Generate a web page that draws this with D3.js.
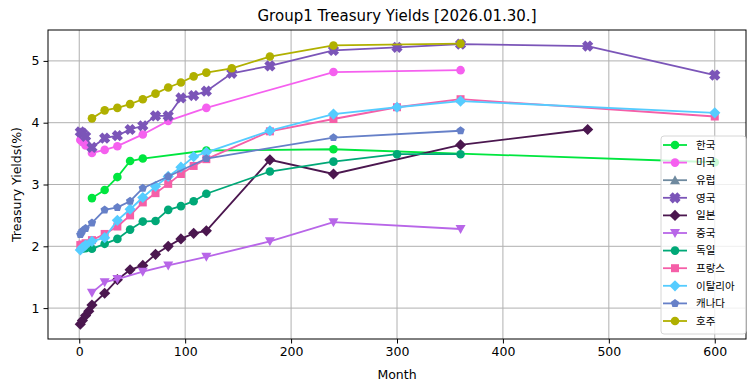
<!DOCTYPE html>
<html>
<head>
<meta charset="utf-8">
<script src="https://cdn.jsdelivr.net/npm/d3@7"></script>
<style>
  body { margin: 0; background: #fff; }
  text { font-family: "DejaVu Sans", sans-serif; fill: #000; }
  .leg text { font-family: "Noto Sans CJK KR", sans-serif; }
</style>
</head>
<body>
<div id="chart"></div>
<script>
// ---- data (month -> yield %) ----
var names = ['한국', '미국', '유럽', '영국', '일본', '중국', '독일', '프랑스', '이탈리아', '캐나다', '호주'];
var colors = ['#00e63f', '#f560ef', '#6f8a9f', '#7b55b8', '#4b174f', '#b866e8', '#00a877', '#f55fa8', '#55ccff', '#6680c8', '#b0b000'];
var shapes = ['circle', 'circle', 'triangleUp', 'x', 'diamond', 'triangleDown', 'circle', 'square', 'diamond', 'pentagon', 'circle'];

var krMonths = [12, 24, 36, 48, 60, 120, 240, 600];
var krYields = [2.78, 2.91, 3.12, 3.38, 3.42, 3.55, 3.57, 3.36];

var usMonths = [1, 2, 3, 4, 6, 12, 24, 36, 60, 84, 120, 240, 360];
var usYields = [3.72, 3.71, 3.69, 3.68, 3.63, 3.51, 3.56, 3.62, 3.81, 4.03, 4.24, 4.82, 4.85];

var euMonths = [];
var euYields = [];

var ukMonths = [1, 3, 6, 12, 24, 36, 48, 60, 72, 84, 96, 108, 120, 144, 180, 240, 300, 360, 480, 600];
var ukYields = [3.85, 3.83, 3.78, 3.60, 3.75, 3.79, 3.89, 3.95, 4.11, 4.11, 4.40, 4.44, 4.51, 4.80, 4.92, 5.17, 5.22, 5.27, 5.24, 4.77];

var jpMonths = [1, 3, 6, 9, 12, 24, 36, 48, 60, 72, 84, 96, 108, 120, 180, 240, 360, 480];
var jpYields = [0.74, 0.80, 0.88, 0.95, 1.05, 1.24, 1.46, 1.62, 1.69, 1.87, 2.00, 2.12, 2.21, 2.25, 3.40, 3.17, 3.64, 3.89];

var cnMonths = [12, 24, 36, 60, 84, 120, 180, 240, 360];
var cnYields = [1.25, 1.42, 1.47, 1.59, 1.69, 1.83, 2.08, 2.39, 2.28];

var deMonths = [3, 6, 12, 24, 36, 48, 60, 72, 84, 96, 108, 120, 180, 240, 300, 360];
var deYields = [1.96, 1.97, 1.96, 2.04, 2.12, 2.27, 2.40, 2.41, 2.59, 2.65, 2.73, 2.85, 3.21, 3.37, 3.49, 3.49];

var frMonths = [1, 3, 6, 12, 24, 36, 48, 60, 72, 84, 96, 108, 120, 180, 240, 300, 360, 600];
var frYields = [2.02, 2.03, 2.05, 2.10, 2.20, 2.32, 2.50, 2.71, 2.86, 3.01, 3.17, 3.30, 3.41, 3.86, 4.06, 4.25, 4.38, 4.10];

var itMonths = [1, 3, 6, 12, 24, 36, 48, 60, 72, 84, 96, 108, 120, 180, 240, 300, 360, 600];
var itYields = [1.94, 1.98, 2.02, 2.08, 2.14, 2.42, 2.60, 2.79, 2.97, 3.13, 3.28, 3.45, 3.52, 3.87, 4.14, 4.25, 4.35, 4.16];

var caMonths = [1, 2, 3, 6, 12, 24, 36, 48, 60, 84, 120, 240, 360];
var caYields = [2.19, 2.22, 2.25, 2.29, 2.38, 2.59, 2.63, 2.73, 2.94, 3.13, 3.42, 3.76, 3.87];

var auMonths = [12, 24, 36, 48, 60, 72, 84, 96, 108, 120, 144, 180, 240, 360];
var auYields = [4.07, 4.20, 4.24, 4.30, 4.38, 4.47, 4.57, 4.65, 4.75, 4.81, 4.88, 5.07, 5.25, 5.28];

var xTicks = [0, 100, 200, 300, 400, 500, 600];
var yTicks = [1, 2, 3, 4, 5];

var monthsList = [krMonths, usMonths, euMonths, ukMonths, jpMonths, cnMonths, deMonths, frMonths, itMonths, caMonths, auMonths];
var yieldsList = [krYields, usYields, euYields, ukYields, jpYields, cnYields, deYields, frYields, itYields, caYields, auYields];

var series = names.map(function (n, i) {
    return {
        name: n, color: colors[i], shape: shapes[i],
        values: monthsList[i].map(function (m, j) { return { m: m, y: yieldsList[i][j] }; })
    };
});

// ---- layout ----
var W = 755, H = 391;
var margin = { left: 48, right: 746, top: 30, bottom: 339 };

var svg = d3.select('#chart').append('svg')
    .attr('width', W).attr('height', H);

var x = d3.scaleLinear().domain([-29.5, 629.5]).range([margin.left, margin.right]);
var y = d3.scaleLinear().domain([0.5, 5.5]).range([margin.bottom, margin.top]);

// grid
svg.append('g').selectAll('line').data(xTicks).enter().append('line')
    .attr('x1', function (d) { return x(d); }).attr('x2', function (d) { return x(d); })
    .attr('y1', margin.top).attr('y2', margin.bottom)
    .attr('stroke', '#b0b0b0').attr('stroke-width', 1);
svg.append('g').selectAll('line').data(yTicks).enter().append('line')
    .attr('y1', function (d) { return y(d); }).attr('y2', function (d) { return y(d); })
    .attr('x1', margin.left).attr('x2', margin.right)
    .attr('stroke', '#b0b0b0').attr('stroke-width', 1);

// marker path builder (size in px, centered)
function markerPath(shape, s) {
    var p = [];
    if (shape === 'circle') {
        return d3.symbol().type(d3.symbolCircle).size(Math.PI * s * s)();
    }
    if (shape === 'square') {
        p = [[-s, -s], [s, -s], [s, s], [-s, s]];
    } else if (shape === 'diamond') {
        p = [[0, -s], [s, 0], [0, s], [-s, 0]];
    } else if (shape === 'triangleDown') {
        p = [[-s, -s * 0.8], [s, -s * 0.8], [0, s]];
    } else if (shape === 'triangleUp') {
        p = [[-s, s * 0.8], [s, s * 0.8], [0, -s]];
    } else if (shape === 'pentagon') {
        for (var k = 0; k < 5; k++) {
            var a = -Math.PI / 2 + k * 2 * Math.PI / 5;
            p.push([s * Math.cos(a), s * Math.sin(a)]);
        }
    } else if (shape === 'x') {
        var w = s * 0.42;
        var base = [[-w, -s], [w, -s], [w, -w], [s, -w], [s, w], [w, w], [w, s], [-w, s], [-w, w], [-s, w], [-s, -w], [-w, -w]];
        p = base.map(function (q) {
            var c = Math.SQRT1_2;
            return [c * (q[0] - q[1]), c * (q[0] + q[1])];
        });
    }
    return 'M' + p.map(function (q) { return q[0].toFixed(2) + ',' + q[1].toFixed(2); }).join('L') + 'Z';
}
var markerSize = { circle: 4.3, square: 4.0, diamond: 5.6, triangleDown: 5.0, triangleUp: 5.0, pentagon: 4.4, x: 5.6 };

// lines + markers
var line = d3.line().x(function (d) { return x(d.m); }).y(function (d) { return y(d.y); });

var plot = svg.append('g');
series.forEach(function (s) {
    var g = plot.append('g');
    g.append('path').datum(s.values)
        .attr('d', line)
        .attr('fill', 'none').attr('stroke', s.color).attr('stroke-width', 1.8);
    g.selectAll('path.mk').data(s.values).enter().append('path')
        .attr('class', 'mk')
        .attr('d', markerPath(s.shape, markerSize[s.shape]))
        .attr('transform', function (d) { return 'translate(' + x(d.m) + ',' + y(d.y) + ')'; })
        .attr('fill', s.color);
});

// axes frame
svg.append('rect').attr('x', margin.left).attr('y', margin.top)
    .attr('width', margin.right - margin.left).attr('height', margin.bottom - margin.top)
    .attr('fill', 'none').attr('stroke', '#000').attr('stroke-width', 1);

var xAxis = svg.append('g').attr('transform', 'translate(0,' + margin.bottom + ')')
    .call(d3.axisBottom(x).tickValues(xTicks).tickSize(4.5).tickPadding(4));
var yAxis = svg.append('g').attr('transform', 'translate(' + margin.left + ',0)')
    .call(d3.axisLeft(y).tickValues(yTicks).tickFormat(d3.format('d')).tickSize(4.5).tickPadding(4));
[xAxis, yAxis].forEach(function (a) {
    a.select('.domain').remove();
    a.selectAll('text').attr('font-size', 12.5).attr('font-family', null).attr('fill', '#000');
    a.selectAll('line').attr('stroke', '#000');
});

// labels
svg.append('text').attr('x', (margin.left + margin.right) / 2).attr('y', 21)
    .attr('text-anchor', 'middle').attr('font-size', 15)
    .text('Group1 Treasury Yields [2026.01.30.]');
svg.append('text').attr('x', (margin.left + margin.right) / 2).attr('y', 379)
    .attr('text-anchor', 'middle').attr('font-size', 12.5)
    .text('Month');
svg.append('text')
    .attr('transform', 'translate(21,' + (margin.top + margin.bottom) / 2 + ') rotate(-90)')
    .attr('text-anchor', 'middle').attr('font-size', 12.5)
    .text('Treasury Yields(%)');

// legend
var leg = svg.append('g').attr('class', 'leg');
leg.append('rect').attr('x', 661).attr('y', 136).attr('width', 85).attr('height', 198)
    .attr('rx', 3).attr('fill', '#fff').attr('fill-opacity', 0.8)
    .attr('stroke', '#d6d6d6').attr('stroke-width', 1);
var rowH = 17.6;
var item = leg.selectAll('g.item').data(series).enter().append('g')
    .attr('class', 'item')
    .attr('transform', function (d, i) { return 'translate(663,' + (145 + i * rowH) + ')'; });
item.append('line').attr('x1', 0).attr('x2', 24)
    .attr('stroke', function (d) { return d.color; }).attr('stroke-width', 1.8);
item.append('path')
    .attr('d', function (d) { return markerPath(d.shape, markerSize[d.shape]); })
    .attr('transform', 'translate(12,0)')
    .attr('fill', function (d) { return d.color; });
item.append('text').attr('x', 33).attr('y', 3.8).attr('font-size', 10.5)
    .text(function (d) { return d.name; });
</script>
</body>
</html>
